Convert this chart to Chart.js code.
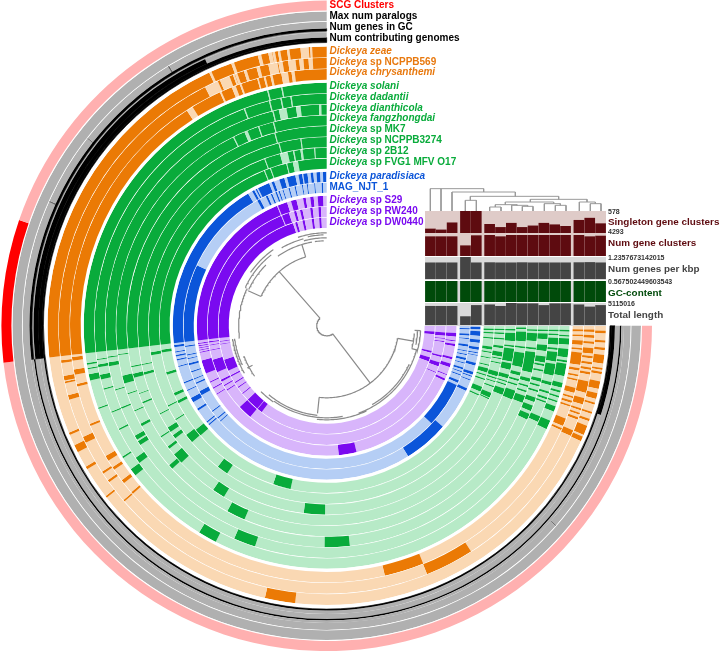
<!DOCTYPE html>
<html>
<head>
<meta charset="utf-8">
<script src="https://cdn.jsdelivr.net/npm/chart.js@4/dist/chart.umd.js"></script>
<style>
  html, body { margin: 0; padding: 0; background: #fff; }
  #page { position: relative; width: 721px; height: 653px; overflow: hidden; font-family: "Liberation Sans", Arial, sans-serif; font-weight: bold; }
  #page canvas { position: absolute; display: block; }
  .lbl { position: absolute; white-space: nowrap; transform: translateY(-50%); line-height: 1; }
</style>
</head>
<body>
<div id="page"></div>
<script>
// gene cluster axis: 270 degrees clockwise from east, blocks are [start, width]
const coreStart = 173.5;

const zeaeDark = [[1,.6],[3,.5],[4.5,.5],[6,1.8],[8.7,.4],[9.5,.5],[11.5,1.6],[14,1.2],[16,.4],[18,.4],[19.5,.5],[21,2],[23.4,1],[96.5,6.3],[142,.4],[149.1,.6],[153.1,1.6],[157,.5],[coreStart,96.5]];
const zeaeGaps = [[245.1,.5],[250,.6],[255.7,.7],[257.9,.8],[258.8,.5],[259.9,.5],[261.8,.5],[264.6,1.7],[266.6,.4]];
const ncppb569Dark = [[.8,.5],[2,.6],[3.4,.5],[4.8,1.2],[6.5,.5],[7.8,.5],[9,.5],[10,.5],[12,2.5],[15.7,1.4],[18,.4],[19,.4],[20,.5],[23,1.3],[57.4,10.6],[139,.4],[144.3,.5],[146.5,.5],[154.1,1.4],[164,1],[167.6,.4],[168.2,1],[172,.6],[coreStart,96.5]];
const ncppb569Gaps = [[243,3],[246.5,2.2],[249.5,.4],[250,.5],[252,.6],[254.8,.7],[257.4,2],[259.6,.9],[261.7,1.6],[264.1,.9],[266.1,.9]];
const chrysanthemiDark = [[.8,.5],[2,.4],[3.3,1],[5,.4],[6,2.8],[9.5,.6],[11,.4],[12,.4],[14,1.2],[16,.4],[17,.5],[18,.4],[21.2,1.8],[23.5,.5],[67.9,9],[139.1,.5],[142.2,.8],[145.9,.7],[148.3,1.2],[157,.5],[166.3,.6],[169,1.2],[172.2,.8],[coreStart,96.5]];
const chrysanthemiGaps = [[237,1.5],[245.4,.4],[248.3,.9],[250.2,.4],[254.3,.3],[255.8,.4],[257.3,.5],[259.8,1.5],[262.1,.7]];

const solaniDark = [[1,.4],[2.2,.4],[3,1.5],[5.5,2],[8.2,.5],[9,3],[13.6,1.2],[15.5,.5],[16.8,.4],[18,.4],[19.4,1.3],[23,2.2],[117.2,4.5],[142,1.8],[147,.4],[160,.3],[167,1.5],[169.7,.3],[170.8,.4],[coreStart,96.5]];
const solaniGaps = [[255.8,.3],[259.2,.3]];
const dadantiiDark = [[1,.4],[2,.4],[3,1.7],[5.5,.5],[6.5,2.4],[9.5,.4],[9.9,2.5],[14.1,.8],[16.5,.5],[18,.5],[19,.4],[23,1.5],[108,5.5],[143.8,1.6],[153.3,.4],[158,.3],[164,.3],[166.6,1.2],[169.7,.7],[171.5,.3],[coreStart,96.5]];
const dadantiiGaps = [[249.1,.3],[255.6,.3],[258.5,.3],[261,.3]];
const dianthicolaDark = [[1,.4],[2,1.5],[5,1.6],[8,1.6],[10,.5],[11.5,.5],[13.8,.9],[15.5,.5],[17,.5],[19,1.2],[21.2,1.5],[23.5,1.6],[84,6.6],[147.4,1.2],[149,1.2],[158,.4],[163,.3],[169.5,1],[171.7,.3],[coreStart,96.5]];
const dianthicolaGaps = [[255.8,.3],[257.5,2],[262,1.2],[268,.6]];
const fangzhongdaiDark = [[1,.4],[2,2.2],[6,.5],[7.2,5.7],[14.5,1],[16.5,.5],[18,.5],[19.5,2],[113,5.2],[137.2,1.3],[151.5,.8],[156,.3],[161,.3],[164.1,2.2],[172,.3],[coreStart,96.5]];
const fangzhongdaiGaps = [[243.6,.3],[247,.9],[251,.3],[255.2,.3]];
const mk7Dark = [[.5,.5],[1.7,2.8],[6,.5],[7.8,4.2],[13.5,1],[15.5,.6],[17,.5],[19,2.7],[121,3.7],[136.7,3.2],[142,.8],[146,.4],[157.1,.5],[160,.3],[164.9,1.2],[168,.4],[coreStart,96.5]];
const mk7Gaps = [[254.8,.3]];
const ncppb3274Dark = [[1,.5],[2.2,2.5],[6,.5],[7,4],[11.5,2],[15,1.2],[17,.4],[18,.4],[19.5,2],[90.5,6.5],[143.4,1.2],[145.8,1.6],[152,.3],[165,.8],[168,.3],[coreStart,96.5]];
const ncppb3274Gaps = [[255.2,.3],[262,.3]];
const sp2b12Dark = [[1,.4],[2.2,.5],[4,.5],[6.5,.8],[8.5,1.5],[10.5,.4],[12,.4],[15,1.5],[17,.5],[18.2,.4],[19.8,.5],[22.2,1.6],[24,.4],[124,3.7],[139.2,3],[148,.4],[153,.4],[170.5,1],[coreStart,96.5]];
const sp2b12Gaps = [[249.5,.3],[254.8,2.5],[259.1,.4],[261.5,.7],[266,.3]];
const fvg1Dark = [[1,.5],[2.2,.5],[4,.5],[7.2,1],[9,.4],[11,.4],[13.5,.4],[14.8,1.5],[17,.5],[18.5,.5],[21.5,1.7],[24.2,.5],[102.5,6.2],[139,2.6],[152.4,1],[155.3,1],[163,.9],[170.8,1],[coreStart,96.5]];
const fvg1Gaps = [[248,.3],[250.2,.3],[256,.3],[258.3,1.8]];

const paradisiacaDark = [[.4,1],[2,1.8],[5.2,1.2],[8,1],[10,.4],[11,.3],[14,1],[17.5,1],[19,.4],[20.5,.4],[24,1.1],[41,17],[139.8,.5],[141,.5],[146.6,.8],[150.2,1.8],[155,.4],[158,.5],[164.5,.4],[167,.5],[168.5,.6],[170,.4],[172,.8],[coreStart,65.8],[241,.9],[242.5,.5],[243.5,4.5],[249,1],[252,2],[255,3.2],[259.4,1.4],[261.2,1.6],[264,1],[266.2,1.4],[268.6,1.2]];
const paradisiacaGaps = [];
const magNjtDark = [[1,.5],[3.2,.8],[5,.4],[7.5,.9],[10,.4],[11.5,.4],[13,.9],[15,.4],[17,.8],[18.6,.4],[20,.4],[22.5,1],[24.5,18.5],[138,.4],[139.5,.5],[143,.5],[151,1.8],[156,.6],[158,.4],[161,.5],[164,.8],[166.5,.4],[168,.4],[171.5,.5],[coreStart,31.5],[241,1.2],[244.8,.8],[247,.6],[249,.6],[250.3,.5],[252,.4],[254.5,.5],[257,.5],[260,.4],[262,.4],[265,.4],[268,.6]];
const magNjtGaps = [];

const s29Dark = [[3.2,1.6],[6.5,.4],[8,1],[14,1],[17,1.6],[22,.4],[24,1],[76.7,8],[148,.4],[151,.5],[154,.5],[158.5,6],[168,.4],[169,.4],[170,.4],[171,.4],[172,.4],[coreStart,78.7],[254,2.5],[259.5,1.2],[262.7,1.5],[266,2.5]];
const s29Gaps = [[247.5,.4]];
const rw240Dark = [[3.2,1.6],[6,.4],[7.5,.4],[14.5,.8],[18,2],[23,.4],[130,7],[147,.5],[149.5,.6],[152,1],[157,6.5],[168,.4],[170.5,.4],[172,.5],[coreStart,78],[254,1.2],[257,1.2],[262,1.2],[266,1.2]];
const rw240Gaps = [[247.5,.4]];
const dw0440Dark = [[3,1.5],[13.5,1],[17,2.2],[127,2.8],[130,7],[141,.5],[145,.5],[148,.6],[152,.8],[155.5,6.2],[170,.4],[171.5,.4],[coreStart,78.3],[253,1.2],[257,1.2],[262,1.2],[266,1.2]];
const dw0440Gaps = [];

// layers above the genomes
const scgRed = [[coreStart,25.5]];
const numGenesSpikes = [[41,.2],[204,.3],[218,.2],[238.5,.3]];
const numGenesCore = [[coreStart,96.5]];
const numGenesBase = [[0,coreStart]];
const contributingHigh = [[coreStart,72]];
const contributingMid = [[0,18],[coreStart,96.5]];
const wholeAxis = [[0,270]];

// bars above the rings, left to right
const barGenomes = ['DW0440','RW240','S29','MAG_NJT_1','paradisiaca','FVG1','2B12','NCPPB3274','MK7','fangzhongdai','dianthicola','dadantii','solani','chrysanthemi','NCPPB569','zeae'];
const singletonClusters = [106,81,268,578,578,228,147,257,147,187,257,217,176,334,390,245];
const numGeneClusters = [3950,3950,3950,2100,4160,4293,3950,4293,4293,4293,4293,4293,4293,4293,3950,4080];
const numGenesPerKbp = [.91,.91,.91,1.2357673142015,.91,.92,.91,.91,.92,.91,.91,.91,.91,.92,.93,.91];
const gcContent = [.5675,.5675,.5675,.5675,.5675,.5675,.5675,.5675,.5675,.5675,.5675,.5675,.5675,.5675,.5675,.5675];
const totalLength = [4350000,4350000,4350000,1950000,4550000,4700000,4350000,5115016,4960000,4960000,4550000,4960000,4960000,4700000,4200000,4550000];

// dendrogram over the bars: [x1, x2, level] and [x, level1, level2]
const topTreeH = [[30,190,40],[95,285,50],[150,415,63],[135,168,75],[330,500,72],[255,400,80],[225,290,88],[208,242,95],[274,322,90],[306,338,93],[372,420,85],[405,437,90],[477,525,80],[510,542,85]];
const topTreeV = [[30,40,107],[62,40,107],[190,40,50],[95,50,107],[285,50,63],[150,63,75],[415,63,72],[135,75,107],[168,75,107],[330,72,80],[500,72,80],[255,80,88],[400,80,85],[225,88,95],[290,88,90],[208,95,107],[242,95,107],[274,90,107],[322,90,93],[306,93,107],[338,93,107],[372,85,107],[420,85,90],[405,90,107],[437,90,107],[477,80,107],[525,80,85],[510,85,107],[542,85,107]];

// gene cluster tree: arcs are [depth, t1, t2], radial branches are [t, depth1, depth2]
const geneTreeArcs = [[10,52.8,228.7],[72,10,96],[72,204,253],[94,3,15],[91,3,12],[88,5,15],[93,15,70],[91,25,60],[94,65,96],[92,80,112],[90,96,130],[92,100,125],[93,125,135],[95,150,172],[93,155,172],[88,145,160],[88,172,205],[90,205,232],[93,215,235],[86,205,225],[85,235,260],[90,240,255],[93,252,270],[88,255,270],[91,258,268],[85,262,268]];
const geneTreeRadials = [[228.7,10,72],[52.8,10,72],[10,72,88],[96,72,88],[204,72,86],[253,72,85],[152,84,90],[3,88,94],[15,88,94]];

const pageEl = document.getElementById('page');

function addCanvas(left, top, width, height, background) {
    var canvas = document.createElement('canvas');
    canvas.width = width;
    canvas.height = height;
    canvas.style.left = left + 'px';
    canvas.style.top = top + 'px';
    canvas.style.width = width + 'px';
    canvas.style.height = height + 'px';
    if (background) {
        canvas.style.background = background;
    }
    pageEl.appendChild(canvas);
    return canvas;
}

function addLabel(html, left, centerY, size, color) {
    var el = document.createElement('div');
    el.className = 'lbl';
    el.innerHTML = html;
    el.style.left = left + 'px';
    el.style.top = centerY + 'px';
    el.style.fontSize = size + 'px';
    el.style.color = color;
    pageEl.appendChild(el);
}

// turn block lists into consecutive slice widths and colours
function buildRing(dark, gaps, darkColor, lightColor) {
    var cuts = [0, 270];
    dark.concat(gaps).forEach(function(b) {
        cuts.push(b[0], b[0] + b[1]);
    });
    cuts.sort(function(a, b) { return a - b; });
    var widths = [];
    var colors = [];
    for (var i = 0; i < cuts.length - 1; i++) {
        var w = cuts[i + 1] - cuts[i];
        if (w <= 0) continue;
        var mid = cuts[i] + w / 2;
        var inside = function(b) { return mid >= b[0] && mid < b[0] + b[1]; };
        var color = dark.some(inside) && !gaps.some(inside) ? darkColor : lightColor;
        if (colors.length && colors[colors.length - 1] === color) {
            widths[widths.length - 1] += w;
        } else {
            widths.push(w);
            colors.push(color);
        }
    }
    return { data: widths, backgroundColor: colors };
}

function ring(dark, gaps, darkColor, lightColor, weight) {
    var r = buildRing(dark, gaps, darkColor, lightColor);
    r.weight = weight;
    r.borderWidth = 0;
    return r;
}

// black layers touch each other, a hairline border hides the seam
function blackRing(dark, weight) {
    var r = buildRing(dark, [], '#000000', GREY);
    r.weight = weight;
    r.borderWidth = .6;
    r.borderColor = r.backgroundColor.map(function(c) {
        return c === '#000000' ? c : 'transparent';
    });
    return r;
}

function spacer(weight) {
    return { data: [270], backgroundColor: ['#ffffff'], weight: weight, borderWidth: 0 };
}

const ORANGE = '#EB7A05', ORANGE_L = '#FAD8B3';
const GREEN = '#09AB3B', GREEN_L = '#B7EAC7';
const BLUE = '#0B55D9', BLUE_L = '#B5CEF5';
const PURPLE = '#7A0AF0', PURPLE_L = '#D8B5FB';
const GREY = '#B0B0B0';

var layers = [
    ring(scgRed, [], '#FF0000', '#FFB0B0', 10),
    spacer(1),
    ring([], [], GREY, GREY, 9.5),
    spacer(.7),
    ring(numGenesSpikes, [], '#666666', GREY, 6.8),
    blackRing(numGenesCore, 2.5),
    ring(numGenesBase, [], '#000000', GREY, 1.5),
    blackRing(contributingHigh, 5),
    blackRing(contributingMid, 3.5),
    blackRing(wholeAxis, 1.5),
    spacer(4),
    ring(zeaeDark, zeaeGaps, ORANGE, ORANGE_L, 10.75), spacer(.5),
    ring(ncppb569Dark, ncppb569Gaps, ORANGE, ORANGE_L, 10.75), spacer(.5),
    ring(chrysanthemiDark, chrysanthemiGaps, ORANGE, ORANGE_L, 10.75),
    spacer(3),
    ring(solaniDark, solaniGaps, GREEN, GREEN_L, 10.3), spacer(.5),
    ring(dadantiiDark, dadantiiGaps, GREEN, GREEN_L, 10.3), spacer(.5),
    ring(dianthicolaDark, dianthicolaGaps, GREEN, GREEN_L, 10.3), spacer(.5),
    ring(fangzhongdaiDark, fangzhongdaiGaps, GREEN, GREEN_L, 10.3), spacer(.5),
    ring(mk7Dark, mk7Gaps, GREEN, GREEN_L, 10.3), spacer(.5),
    ring(ncppb3274Dark, ncppb3274Gaps, GREEN, GREEN_L, 10.3), spacer(.5),
    ring(sp2b12Dark, sp2b12Gaps, GREEN, GREEN_L, 10.3), spacer(.5),
    ring(fvg1Dark, fvg1Gaps, GREEN, GREEN_L, 10.3),
    spacer(3),
    ring(paradisiacaDark, paradisiacaGaps, BLUE, BLUE_L, 10.25), spacer(.5),
    ring(magNjtDark, magNjtGaps, BLUE, BLUE_L, 10.25),
    spacer(3),
    ring(s29Dark, s29Gaps, PURPLE, PURPLE_L, 10.35), spacer(.5),
    ring(rw240Dark, rw240Gaps, PURPLE, PURPLE_L, 10.35), spacer(.5),
    ring(dw0440Dark, dw0440Gaps, PURPLE, PURPLE_L, 10.35)
];

new Chart(addCanvas(0, 0, 721, 653), {
    type: 'doughnut',
    data: { datasets: layers },
    options: {
        responsive: false,
        animation: false,
        events: [],
        rotation: 90,
        circumference: 270,
        cutout: (97.8 / 325 * 100) + '%',
        layout: { padding: { left: 1.4, right: 69, top: .5, bottom: 1.9 } },
        plugins: { legend: { display: false }, tooltip: { enabled: false } }
    }
});

// gene cluster dendrogram in the middle
function polar(depth, t) {
    var a = t * Math.PI / 180;
    return { x: depth * Math.cos(a), y: depth * Math.sin(a) };
}

var geneTreePoints = [];
geneTreeArcs.forEach(function(arc) {
    for (var t = arc[1]; t < arc[2]; t += 1) {
        geneTreePoints.push(polar(arc[0], t));
    }
    geneTreePoints.push(polar(arc[0], arc[2]));
    geneTreePoints.push({ x: NaN, y: NaN });
});
geneTreeRadials.forEach(function(branch) {
    geneTreePoints.push(polar(branch[1], branch[0]));
    geneTreePoints.push(polar(branch[2], branch[0]));
    geneTreePoints.push({ x: NaN, y: NaN });
});

new Chart(addCanvas(0, 0, 721, 653), {
    type: 'scatter',
    data: {
        datasets: [{
            data: geneTreePoints,
            showLine: true,
            borderColor: '#8A8A8A',
            borderWidth: 1.2,
            pointRadius: 0,
            spanGaps: false
        }]
    },
    options: {
        responsive: false,
        animation: false,
        events: [],
        layout: { padding: 0 },
        scales: {
            x: { display: false, min: -326.7, max: 394.3 },
            y: { display: false, min: -325.8, max: 327.2, reverse: true }
        },
        plugins: { legend: { display: false }, tooltip: { enabled: false } }
    }
});

// bars over the rings
function colX(i) {
    return i + (i >= 3 ? .23 : 0) + (i >= 5 ? .23 : 0) + (i >= 13 ? .23 : 0);
}

const barRows = [
    { values: singletonClusters, max: 578, color: '#5E0B10', band: '#DFCBC8', top: 211, height: 24, pad: 2 },
    { values: numGeneClusters, max: 4293, color: '#5E0B10', band: '#DFCBC8', top: 235, height: 21, pad: 0 },
    { values: numGenesPerKbp, max: 1.2357673142015, color: '#444444', band: '#D9D9D9', top: 257, height: 23, pad: 1 },
    { values: gcContent, max: .5675, color: '#004A0A', band: '#D9D9D9', top: 281, height: 21, pad: 0 },
    { values: totalLength, max: 5115016, color: '#444444', band: '#D9D9D9', top: 303, height: 23, pad: 1 }
];

barRows.forEach(function(row) {
    new Chart(addCanvas(425, row.top, 181, row.height, row.band), {
        type: 'bar',
        data: {
            datasets: [{
                data: row.values.map(function(v, i) { return { x: colX(i), y: v }; }),
                backgroundColor: row.color,
                borderWidth: 0,
                barThickness: 10
            }]
        },
        options: {
            responsive: false,
            animation: false,
            events: [],
            layout: { padding: { left: 0, right: 0, top: 0, bottom: row.pad } },
            scales: {
                x: { type: 'linear', display: false, min: -0.5, max: 16.19, offset: false },
                y: { display: false, min: 0, max: row.max }
            },
            plugins: { legend: { display: false }, tooltip: { enabled: false } }
        }
    });
});

// sample dendrogram on top of the bars
var topTreePoints = [];
topTreeH.forEach(function(s) {
    topTreePoints.push({ x: s[0], y: s[2] }, { x: s[1], y: s[2] }, { x: NaN, y: NaN });
});
topTreeV.forEach(function(s) {
    topTreePoints.push({ x: s[0], y: s[1] }, { x: s[0], y: s[2] }, { x: NaN, y: NaN });
});

new Chart(addCanvas(425, 187, 181, 24), {
    type: 'scatter',
    data: {
        datasets: [{
            data: topTreePoints,
            showLine: true,
            borderColor: '#9A9A9A',
            borderWidth: 1,
            pointRadius: 0,
            spanGaps: false
        }]
    },
    options: {
        responsive: false,
        animation: false,
        events: [],
        layout: { padding: 0 },
        scales: {
            x: { display: false, min: 14, max: 557 },
            y: { display: false, min: 35, max: 107, reverse: true }
        },
        plugins: { legend: { display: false }, tooltip: { enabled: false } }
    }
});

// text
const layerLabels = [
    ['SCG Clusters', 5, '#FF0000'],
    ['Max num paralogs', 16, '#000000'],
    ['Num genes in GC', 27, '#000000'],
    ['Num contributing genomes', 37.5, '#000000'],
    ['<i>Dickeya zeae</i>', 51, '#E8790F'],
    ['<i>Dickeya</i> sp NCPPB569', 62, '#E8790F'],
    ['<i>Dickeya chrysanthemi</i>', 72, '#E8790F'],
    ['<i>Dickeya solani</i>', 86, '#09AB3B'],
    ['<i>Dickeya dadantii</i>', 97, '#09AB3B'],
    ['<i>Dickeya dianthicola</i>', 108, '#09AB3B'],
    ['<i>Dickeya fangzhongdai</i>', 118, '#09AB3B'],
    ['<i>Dickeya</i> sp MK7', 129, '#09AB3B'],
    ['<i>Dickeya</i> sp NCPPB3274', 140, '#09AB3B'],
    ['<i>Dickeya</i> sp 2B12', 151, '#09AB3B'],
    ['<i>Dickeya</i> sp FVG1 MFV O17', 161.5, '#09AB3B'],
    ['<i>Dickeya paradisiaca</i>', 176, '#0B55D9'],
    ['MAG_NJT_1', 187, '#0B55D9'],
    ['<i>Dickeya</i> sp S29', 199.5, '#7A0AF0'],
    ['<i>Dickeya</i> sp RW240', 210.5, '#7A0AF0'],
    ['<i>Dickeya</i> sp DW0440', 221.5, '#7A0AF0']
];
layerLabels.forEach(function(l) {
    addLabel(l[0], 329.5, l[1], 10, l[2]);
});

const barLabels = [
    ['578', 'Singleton gene clusters', 211, 222, '#5E0B10'],
    ['4293', 'Num gene clusters', 231, 243, '#5E0B10'],
    ['1.2357673142015', 'Num genes per kbp', 257, 269, '#444444'],
    ['0.567502449603543', 'GC-content', 281, 292.5, '#004A0A'],
    ['5115016', 'Total length', 303, 315, '#444444']
];
barLabels.forEach(function(l) {
    addLabel(l[0], 608, l[2], 7, '#333333');
    addLabel(l[1], 608, l[3], 9.9, l[4]);
});
</script>
</body>
</html>
